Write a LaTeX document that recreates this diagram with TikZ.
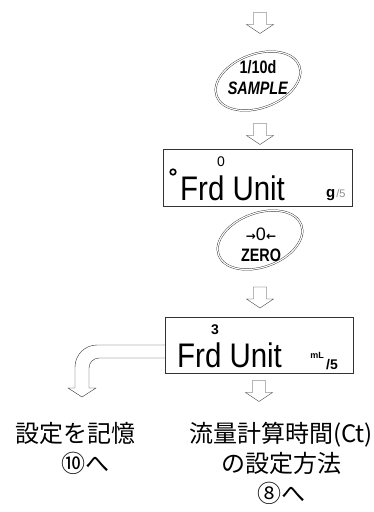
\documentclass[tikz,border=0pt]{standalone}
\usepackage{fontspec}
\setmainfont{Liberation Sans}
\newfontfamily\jpfont{Noto Sans CJK JP}
\newfontfamily\symfont{DejaVu Sans}
\usetikzlibrary{shapes.geometric,positioning,calc}
\tikzset{
  hollowdown/.pic={
    \draw[black!80,thin,fill=white] (-6.5,10.5) -- (-6.5,-1.5) -- (-13.5,-1.5) -- (0,-10.5)
      -- (13.5,-1.5) -- (6.5,-1.5) -- (6.5,10.5) -- cycle;
  },
  keyoval/.style={draw=black!85,double,double distance=1.2pt,thin},
  keytext/.style={align=center,font=\bfseries\fontsize{18}{21}\selectfont,inner sep=0pt},
  dispbox/.style={rectangle,draw=black!80,thin,inner sep=0pt},
  segtext/.style={font=\fontsize{31}{31}\selectfont,inner sep=0pt,anchor=base west},
  segsmall/.style={font=\fontsize{14}{14}\selectfont,inner sep=0pt},
  notetext/.style={align=center,font=\jpfont\fontsize{24}{30}\selectfont,inner sep=0pt}
}

\begin{document}
\begin{tikzpicture}[x=1pt,y=1pt]
  \useasboundingbox (0,0) rectangle (373,-512);

  \pic (arr0) at (260,-23) {hollowdown};
  \coordinate (samplekey) at (258,-81);
  \draw[keyoval] (samplekey) ellipse [x radius=44, y radius=27, rotate=20];
  \node[keytext] (sampletxt) at (258,-78) {\scalebox{0.8}[1]{1/10d}\\\scalebox{0.8}[1]{\textit{SAMPLE}}};
  \pic (arr1) at (260,-134) {hollowdown};

  \node[dispbox,minimum width=189pt,minimum height=57pt] (disp1) at (257.5,-177.5) {};
  \draw[line width=1.6pt] (173,-172) circle (2.8);
  \node[segsmall] (dig1) at (221,-162) {0};
  \node[segtext] (unit1) at (180,-200) {\scalebox{0.95}[1.1]{Frd Unit}};
  \node[inner sep=0pt,anchor=base west,font=\bfseries\fontsize{15}{15}\selectfont] (gram) at (326,-197) {g};
  \node[inner sep=0pt,text=black!45,font=\fontsize{11}{11}\selectfont,right=0.5pt of gram.base east,anchor=base west] (per1) {/5};

  \coordinate (zerokey) at (260,-240);
  \draw[keyoval] (zerokey) ellipse [x radius=44, y radius=27, rotate=20];
  \node[keytext] (zerotxt) at (261,-245) {{\symfont\fontsize{12}{12}\selectfont →}{\mdseries 0}{\symfont\fontsize{12}{12}\selectfont ←}\\\scalebox{0.8}[1]{ZERO}};
  \pic (arr2) at (260,-297.5) {hollowdown};

  \node[dispbox,minimum width=188pt,minimum height=56pt] (disp2) at (259,-345) {};
  \node[segsmall] (dig2) at (215,-330) {\textbf{3}};
  \node[segtext] (unit2) at (177,-367) {\scalebox{0.95}[1.1]{Frd Unit}};
  \node[inner sep=0pt,font=\bfseries\fontsize{9}{9}\selectfont] (ml) at (317,-355) {mL};
  \node[inner sep=0pt,anchor=base west,font=\bfseries\fontsize{14}{14}\selectfont] (per2) at (326,-369) {/5};
  \pic (arr3) at (259,-391) {hollowdown};

  \coordinate (memtip) at (82,-397);
  \draw[thin,black!80] (disp2.west) -- (97,-345) arc[start angle=90, end angle=180, radius=22]
    -- (75,-388) -- (68,-388) -- (memtip) -- (96,-388) -- (89,-388) -- (89,-368)
    arc[start angle=180, end angle=90, radius=10] -- ([yshift=-13pt]disp2.west);

  \node[notetext] (memnote) at (76,-448) {設定を記憶\\\hspace*{20pt}⑩へ};
  \node[notetext] (ctnote) at (281,-463) {流量計算時間(Ct)\\の設定方法\\⑧へ};
\end{tikzpicture}
\end{document}
